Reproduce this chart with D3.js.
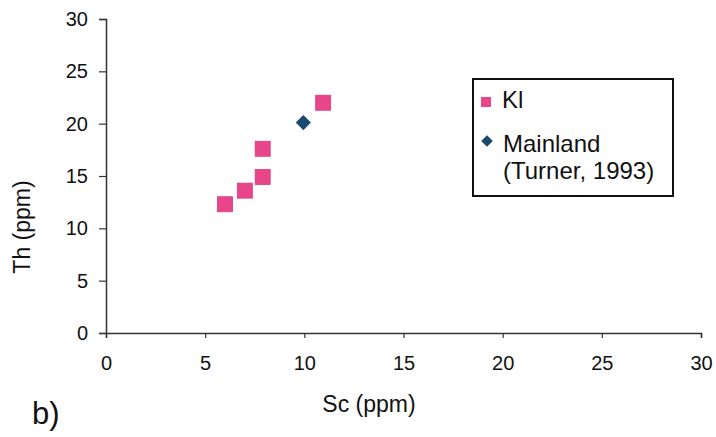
<!DOCTYPE html>
<html>
<head>
<meta charset="utf-8">
<script src="https://cdn.jsdelivr.net/npm/d3@7"></script>
<style>
  html, body { margin: 0; padding: 0; background: #fff; }
  svg { display: block; font-family: "Liberation Sans", Arial, sans-serif; }
</style>
</head>
<body>
<svg id="chart" width="716" height="437"></svg>
<script>
// Sc vs Th (ppm)
const klSc = [6.0, 7.0, 7.9, 7.9, 10.95];
const klTh = [12.3, 13.6, 14.9, 17.6, 22.0];
const mainlandSc = [9.95];
const mainlandTh = [20.1];
const xTicks = [0, 5, 10, 15, 20, 25, 30];
const yTicks = [0, 5, 10, 15, 20, 25, 30];
const seriesNames = ["Kl", "Mainland", "(Turner, 1993)"];

const svg = d3.select("#chart");
const x = d3.scaleLinear().domain([0, 30]).range([106, 701]);
const y = d3.scaleLinear().domain([0, 30]).range([333, 19]);

const axisColor = "#333";
const font = "Liberation Sans, Arial, sans-serif";

// x axis
const gx = svg.append("g")
  .attr("transform", `translate(0,${y(0)})`)
  .call(d3.axisBottom(x).tickValues(xTicks).tickSize(5).tickPadding(18).tickFormat(d3.format("d")));
gx.attr("font-size", 20).attr("font-family", font);
gx.select(".domain").attr("stroke", axisColor).attr("stroke-width", 1.5);
gx.selectAll(".tick line").attr("stroke", axisColor).attr("stroke-width", 1.2);
gx.selectAll(".tick text").attr("fill", "#111");

// y axis
const gy = svg.append("g")
  .attr("transform", `translate(${x(0)},0)`)
  .call(d3.axisLeft(y).tickValues(yTicks).tickSize(7).tickPadding(11).tickFormat(d3.format("d")));
gy.attr("font-size", 20).attr("font-family", font);
gy.select(".domain").attr("stroke", axisColor).attr("stroke-width", 1.5);
gy.selectAll(".tick line").attr("stroke", axisColor).attr("stroke-width", 1.2);
gy.selectAll(".tick text").attr("fill", "#111");

// axis titles
svg.append("text")
  .attr("x", 369).attr("y", 412)
  .attr("text-anchor", "middle")
  .attr("font-size", 23).attr("fill", "#111")
  .text("Sc (ppm)");

svg.append("text")
  .attr("transform", "translate(29.5,227) rotate(-90)")
  .attr("text-anchor", "middle")
  .attr("font-size", 23).attr("fill", "#111")
  .text("Th (ppm)");

svg.append("text")
  .attr("x", 32).attr("y", 424)
  .attr("font-size", 31).attr("fill", "#111")
  .text("b)");

// Kl squares
const pink = "#e8458b";
const sq = 15;
svg.append("g").selectAll("rect")
  .data(d3.zip(klSc, klTh))
  .join("rect")
  .attr("x", d => x(d[0]) - sq / 2)
  .attr("y", d => y(d[1]) - sq / 2)
  .attr("width", sq).attr("height", sq)
  .attr("fill", pink)
  .attr("stroke", "#d93a7c").attr("stroke-width", 0.8);

// Mainland diamonds
const navy = "#1b4a70";
const diamond = d3.symbol().type(d3.symbolSquare).size(115);
svg.append("g").selectAll("path")
  .data(d3.zip(mainlandSc, mainlandTh))
  .join("path")
  .attr("d", diamond)
  .attr("transform", d => `translate(${x(d[0])},${y(d[1])}) rotate(45)`)
  .attr("fill", navy);

// legend
const lg = svg.append("g");
lg.append("rect")
  .attr("x", 473).attr("y", 79).attr("width", 200).attr("height", 117)
  .attr("fill", "#fff").attr("stroke", "#111").attr("stroke-width", 2);
lg.append("rect")
  .attr("x", 481).attr("y", 97).attr("width", 10).attr("height", 10)
  .attr("fill", pink);
lg.append("path")
  .attr("d", d3.symbol().type(d3.symbolSquare).size(68))
  .attr("transform", "translate(487,141) rotate(45)")
  .attr("fill", navy);
lg.append("text").attr("x", 502).attr("y", 108)
  .attr("font-size", 24).attr("fill", "#111").text(seriesNames[0]);
lg.append("text").attr("x", 503).attr("y", 152)
  .attr("font-size", 24).attr("fill", "#111").text(seriesNames[1]);
lg.append("text").attr("x", 503).attr("y", 179)
  .attr("font-size", 24).attr("fill", "#111").text(seriesNames[2]);
</script>
</body>
</html>
